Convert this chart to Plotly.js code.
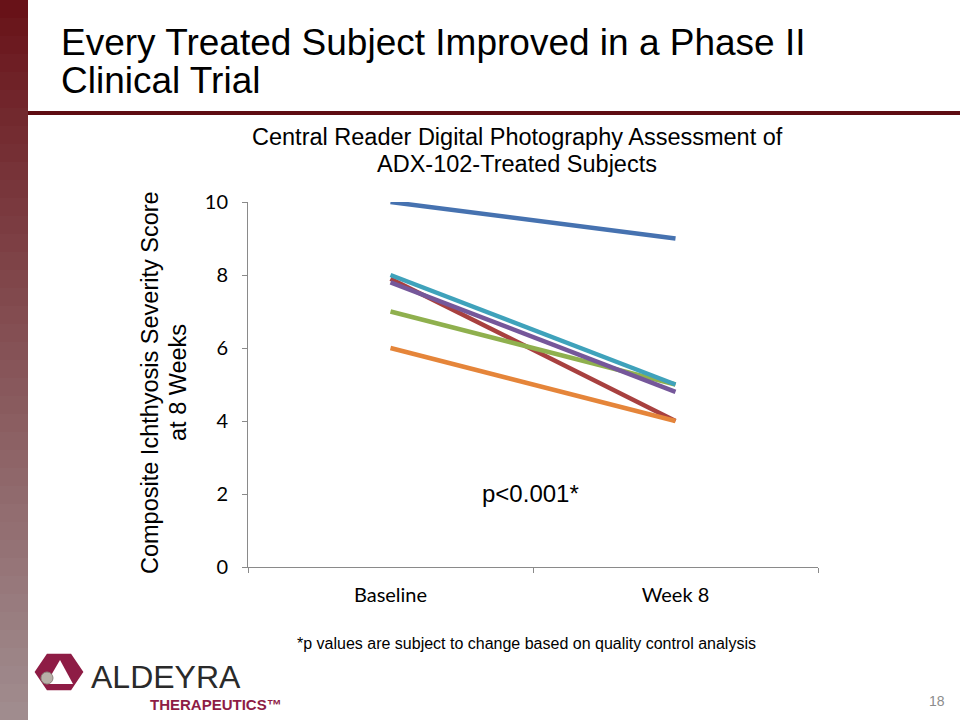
<!DOCTYPE html>
<html>
<head>
<meta charset="utf-8">
<script src="https://cdn.plot.ly/plotly-3.0.1.min.js"></script>
<style>html,body{margin:0;padding:0;background:#fff;}#chart{width:960px;height:720px;}</style>
</head>
<body>
<div id="chart"></div>
<script>
// ---- data ----
const categories = ["Baseline", "Week 8"];
const subject1 = [10, 9];
const subject2 = [7.9, 4];
const subject3 = [7, 5];
const subject4 = [7.8, 4.8];
const subject5 = [8, 5];
const subject6 = [6, 4];
const seriesNames = ["Subject 1", "Subject 2", "Subject 3", "Subject 4", "Subject 5", "Subject 6"];
const yTickVals = [0, 2, 4, 6, 8, 10];

const seriesValues = [subject1, subject2, subject3, subject4, subject5, subject6];
const seriesColors = ["#4672B0", "#A8403F", "#8FB04E", "#75579A", "#3FA2BB", "#E5853A"];

const traces = seriesValues.map((vals, i) => ({
  type: "scatter", mode: "lines", x: categories, y: vals, name: seriesNames[i],
  line: {color: seriesColors[i], width: 4.5}, hoverinfo: "x+y+name"
}));

// plot area in pixels
const L = 248, R = 818, T = 202, B = 567;
const px = x => (x - L) / (R - L);
const py = y => (B - y) / (B - T);

const shapes = [];
// left gradient bar
const nSeg = 40;
const c0 = [104, 18, 24], c1 = [160, 140, 142];
for (let i = 0; i < nSeg; i++) {
  const t = i / (nSeg - 1);
  const c = c0.map((v, k) => Math.round(v + (c1[k] - v) * Math.pow(t, 0.9)));
  shapes.push({type: "rect", xref: "paper", yref: "paper", layer: "below",
    x0: px(0), x1: px(28), y0: py(720 * i / nSeg), y1: py(720 * (i + 1) / nSeg + 0.5),
    fillcolor: `rgb(${c[0]},${c[1]},${c[2]})`, line: {width: 0}});
}
// header rule
shapes.push({type: "rect", xref: "paper", yref: "paper", x0: px(28), x1: px(960), y0: py(111), y1: py(115),
  fillcolor: "#5E0D12", line: {width: 0}});
// logo hexagon
const hx = 59, hy = 672, hr = 22;
let hp = "";
for (let k = 0; k < 6; k++) {
  const a = Math.PI / 180 * (60 * k);
  const X = px(hx + hr * Math.cos(a)), Y = py(hy + 0.85 * hr * Math.sin(a));
  hp += (k === 0 ? "M" : "L") + X + "," + Y + " ";
}
hp += "Z";
shapes.push({type: "path", xref: "paper", yref: "paper", path: hp, fillcolor: "#8E1C45", line: {color: "#8E1C45", width: 4}});
// white triangle inside
const tri = [[60, 660], [73, 684], [46, 684]];
shapes.push({type: "path", xref: "paper", yref: "paper",
  path: "M" + tri.map(p => px(p[0]) + "," + py(p[1])).join(" L") + " Z",
  fillcolor: "#ffffff", line: {width: 0}});
// gray circle
shapes.push({type: "circle", xref: "paper", yref: "paper", x0: px(41), x1: px(53), y0: py(684), y1: py(672),
  fillcolor: "#B8B0A8", line: {color: "#8C847C", width: 1}});

const FF = "Liberation Sans, Arial, sans-serif";
const ann = (text, x, y, size, opts = {}) => Object.assign({
  text, xref: "paper", yref: "paper", x: px(x), y: py(y), showarrow: false,
  font: {family: FF, size, color: "#000"},
  xanchor: "center", yanchor: "middle"
}, opts);

const annotations = [
  ann("Every Treated Subject Improved in a Phase II", 59, 42, 37, {xanchor: "left"}),
  ann("Clinical Trial", 59, 81, 37, {xanchor: "left"}),
  ann("Central Reader Digital Photography Assessment of", 517, 137, 23.5),
  ann("ADX-102-Treated Subjects", 517, 164, 23.5),
  ann("Composite Ichthyosis Severity Score", 150, 383, 23.5, {textangle: -90}),
  ann("at 8 Weeks", 178, 383, 23.5, {textangle: -90}),
  ann("p<0.001*", 530, 493, 24),
  ann("*p values are subject to change based on quality control analysis", 526, 643, 16),
  ann("ALDEYRA", 166, 677, 32, {font: {family: FF, size: 32, color: "#2a2a2a"}}),
  ann("THERAPEUTICS™", 216, 704, 15, {font: {family: FF, size: 15, color: "#8E1C45", weight: 700}}),
  ann("18", 937, 701, 14, {font: {family: FF, size: 14, color: "#8c8c8c"}})
];

const layout = {
  width: 960, height: 720,
  margin: {l: L, r: 960 - R, t: T, b: 720 - B, pad: 0},
  paper_bgcolor: "#ffffff", plot_bgcolor: "#ffffff",
  showlegend: false,
  xaxis: {
    type: "category", range: [-0.5, 1.5], showgrid: false, zeroline: false,
    showline: true, linecolor: "#8a8a8a", linewidth: 1,
    ticks: "outside", tickson: "boundaries", ticklen: 5, tickcolor: "#8a8a8a",
    tickfont: {family: "Lato, Open Sans, sans-serif", size: 20, color: "#000"},
    ticklabelstandoff: 10
  },
  yaxis: {
    range: [0, 10], tickvals: yTickVals, showgrid: false, zeroline: false,
    showline: true, linecolor: "#8a8a8a", linewidth: 1,
    ticks: "outside", ticklen: 5, tickcolor: "#8a8a8a",
    tickfont: {family: "Lato, Open Sans, sans-serif", size: 20, color: "#000"},
    ticklabelstandoff: 10
  },
  shapes, annotations
};

Plotly.newPlot("chart", traces, layout, {displayModeBar: false, staticPlot: true});
</script>
</body>
</html>
